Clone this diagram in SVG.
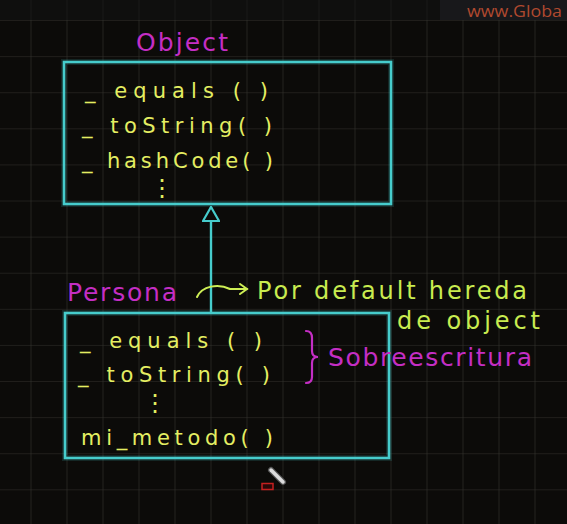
<svg xmlns="http://www.w3.org/2000/svg" width="567" height="524" viewBox="0 0 567 524">
<defs>
<pattern id="grid" x="-4.5" y="-15.1" width="36" height="36.1" patternUnits="userSpaceOnUse">
<path d="M36,0 V36.1 M0,36.1 H36" fill="none" stroke="#33322d" stroke-width="1.2"/>
</pattern>
<marker id="inherit" viewBox="0 0 16 18" refX="15" refY="9" markerWidth="16" markerHeight="18" markerUnits="userSpaceOnUse" orient="auto">
<path d="M1,1 L15,9 L1,17 Z" fill="#0c0b09" stroke="#46cccc" stroke-width="2.2" stroke-linejoin="miter"/>
</marker>
<marker id="open" viewBox="0 0 10 12" refX="8" refY="6" markerWidth="10" markerHeight="12" markerUnits="userSpaceOnUse" orient="auto">
<path d="M1,1 L8,6 L1,11" fill="none" stroke="#cdee55" stroke-width="2" stroke-linecap="round"/>
</marker>
</defs>
<style>
.box{fill:none;stroke:#46cccc;stroke-width:2.6}
.glow{fill:none;stroke:#46cccc;stroke-width:6;opacity:0.15}
.m{font-family:"DejaVu Sans",sans-serif;font-size:21px;fill:#e4ee62}
.pk{font-family:"DejaVu Sans",sans-serif;font-size:25px;fill:#c42ec4}
.gr{font-family:"DejaVu Sans",sans-serif;font-size:24px;fill:#c9ec50}
.dots{font-family:"DejaVu Sans",sans-serif;font-size:24px;fill:#e4ee62}
</style>
<rect width="567" height="524" fill="#0c0b09"/>
<rect width="567" height="524" fill="url(#grid)"/>
<rect x="0" y="0" width="567" height="20" fill="#121212" opacity="0.6"/>
<rect x="440" y="0" width="127" height="20" fill="#18181b"/>
<text x="467" y="17" font-family="Open Sans, sans-serif" font-size="16" fill="#b0492f" textLength="95" lengthAdjust="spacingAndGlyphs">www.Globa</text>

<g id="connectors">
<line x1="211" y1="313" x2="211" y2="207" stroke="#46cccc" stroke-width="2.4" marker-end="url(#inherit)"/>
<path d="M197,297 C202,286 218,283 230,289 L247,289" fill="none" stroke="#cdee55" stroke-width="2" stroke-linecap="round" marker-end="url(#open)"/>
</g>

<g id="object">
<text class="pk" x="136" y="51" textLength="92" lengthAdjust="spacing">Object</text>
<rect class="glow" x="64" y="62" width="327" height="142"/>
<rect class="box" x="64" y="62" width="327" height="142"/>
<text class="m" x="85" y="98" textLength="183" lengthAdjust="spacing">_ equals ( )</text>
<text class="m" x="82" y="133" textLength="190" lengthAdjust="spacing">_ toString( )</text>
<text class="m" x="82" y="168" textLength="191" lengthAdjust="spacing">_ hashCode( )</text>
<text class="dots" x="150" y="196">⋮</text>
</g>

<g id="persona">
<text class="pk" x="67" y="301" textLength="110" lengthAdjust="spacing">Persona</text>
<rect class="glow" x="65" y="313" width="324" height="145"/>
<rect class="box" x="65" y="313" width="324" height="145"/>
<text class="m" x="80" y="348" textLength="182" lengthAdjust="spacing">_ equals ( )</text>
<text class="m" x="78" y="382" textLength="192" lengthAdjust="spacing">_ toString( )</text>
<text class="dots" x="143" y="411">⋮</text>
<text class="m" x="81" y="445" textLength="192" lengthAdjust="spacing">mi_metodo( )</text>
</g>

<g id="note">
<text class="gr" x="257" y="299" textLength="270" lengthAdjust="spacing">Por default hereda</text>
<text class="gr" x="397" y="329" textLength="143" lengthAdjust="spacing">de object</text>
</g>

<g id="override">
<path d="M306,331 Q312,331 312,338 L312,351 Q312,357 318,357 Q312,357 312,363 L312,377 Q312,383 306,383" fill="none" stroke="#c42ec4" stroke-width="2.2" stroke-linecap="round"/>
<text class="pk" x="328" y="366" textLength="204" lengthAdjust="spacing">Sobreescritura</text>
</g>

<g id="cursor">
<line x1="271" y1="470" x2="283" y2="482" stroke="#555" stroke-width="6" stroke-linecap="round"/>
<line x1="271" y1="470" x2="283" y2="482" stroke="#dcdcdc" stroke-width="3.5" stroke-linecap="round"/>
<rect x="262" y="483.5" width="11" height="6" fill="#2a0808" stroke="#c42020" stroke-width="1.5"/>
</g>
</svg>
